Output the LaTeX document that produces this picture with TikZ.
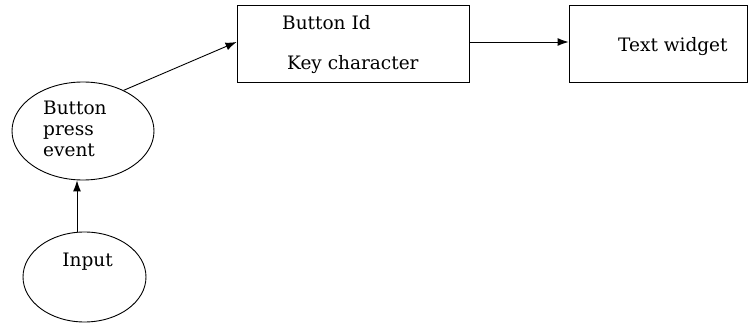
\documentclass[tikz,border=0pt]{standalone}
\usepackage{fontspec}
\setmainfont{DejaVu Serif}
\usetikzlibrary{arrows.meta,shapes.geometric}
\begin{document}
\begin{tikzpicture}[x=1pt,y=-1pt,
  box/.style={draw,line width=0.9pt,inner sep=0pt,minimum height=77pt},
  ell/.style={draw,ellipse,line width=0.9pt,inner sep=0pt},
  lbl/.style={inner sep=0pt,font=\fontsize{18.5}{21}\selectfont},
  arr/.style={-{Latex[length=11pt,width=8pt]},line width=0.9pt}]
\useasboundingbox (0,0) rectangle (750,323);
\node[box,minimum width=232pt] (b1) at (353,43.5) {};
\node[box,minimum width=178pt] (b2) at (658,43.5) {};
\node[lbl,anchor=west] (t1) at (282,23) {Button Id};
\node[lbl,anchor=west] (t2) at (287,65) {Key character};
\node[lbl,anchor=west] (t3) at (618,47) {Text widget};
\node[ell,minimum width=142pt,minimum height=98pt] (e1) at (83,131) {};
\node[ell,minimum width=123pt,minimum height=90pt] (e2) at (84.5,277) {};
\node[lbl,anchor=north west,align=left] (t4) at (43,101) {Button\\press\\event};
\node[lbl] (t5) at (87.5,262) {Input};
\draw[arr] ([xshift=-7.5pt]e2.north) -- ([xshift=-7.5pt]e2.north |- e1.south);
\draw[arr] (e1.45) -- ([yshift=1.5pt]b1.west);
\draw[arr] ([yshift=1.5pt]b1.east) -- ([yshift=1.5pt]b2.west);
\end{tikzpicture}
\end{document}
